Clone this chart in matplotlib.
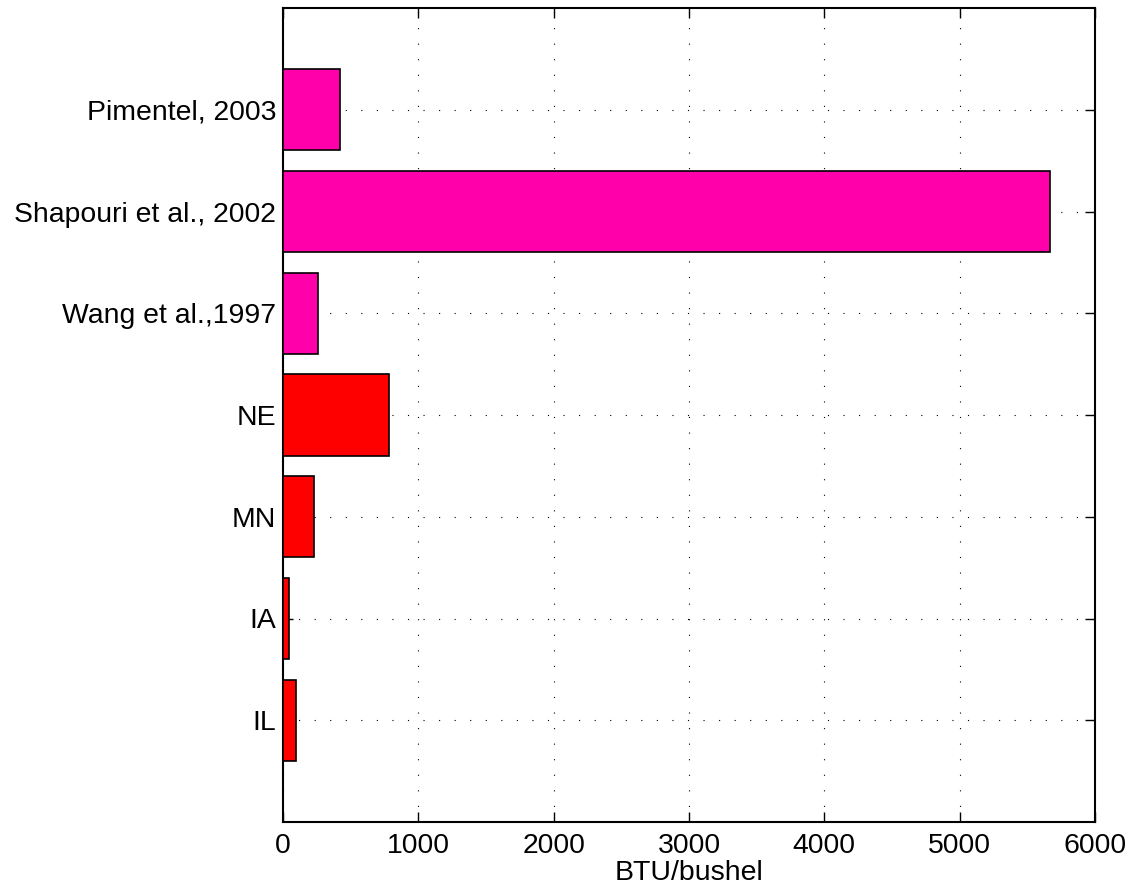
import matplotlib
matplotlib.use("Agg")
import matplotlib.pyplot as plt

plt.rcParams['font.family'] = ['Liberation Sans', 'DejaVu Sans']

# studies / states, bottom to top
labels = ['IL', 'IA', 'MN', 'NE', 'Wang et al.,1997', 'Shapouri et al., 2002', 'Pimentel, 2003']
btu = [96, 44, 229, 786, 256, 5670, 421]
colors = ['#ff0000', '#ff0000', '#ff0000', '#ff0000', '#ff00aa', '#ff00aa', '#ff00aa']

fig = plt.figure(figsize=(11.32, 8.93), dpi=100)
ax = fig.add_axes([283/1132, 71/893, 812/1132, 814/893])

ypos = list(range(1, len(labels) + 1))
ax.barh(ypos, btu, height=0.8, color=colors, edgecolor='black', linewidth=1.2, zorder=3)

ax.set_xlim(0, 6000)
ax.set_ylim(0, 8)
ax.set_xticks([0, 1000, 2000, 3000, 4000, 5000, 6000])
ax.set_yticks(ypos)
ax.set_yticklabels(labels)
ax.set_xlabel('BTU/bushel', fontsize=20.5, labelpad=1)

ax.grid(True, linestyle=(0, (1, 13)), color='black', linewidth=0.8, zorder=0)
ax.tick_params(direction='in', length=7, width=1, top=True, right=True, labelsize=20.4)
ax.tick_params(axis='y', pad=5)
ax.tick_params(axis='x', pad=8)
for s in ax.spines.values():
    s.set_linewidth(1.5)

fig.savefig('out.png', dpi=100)
